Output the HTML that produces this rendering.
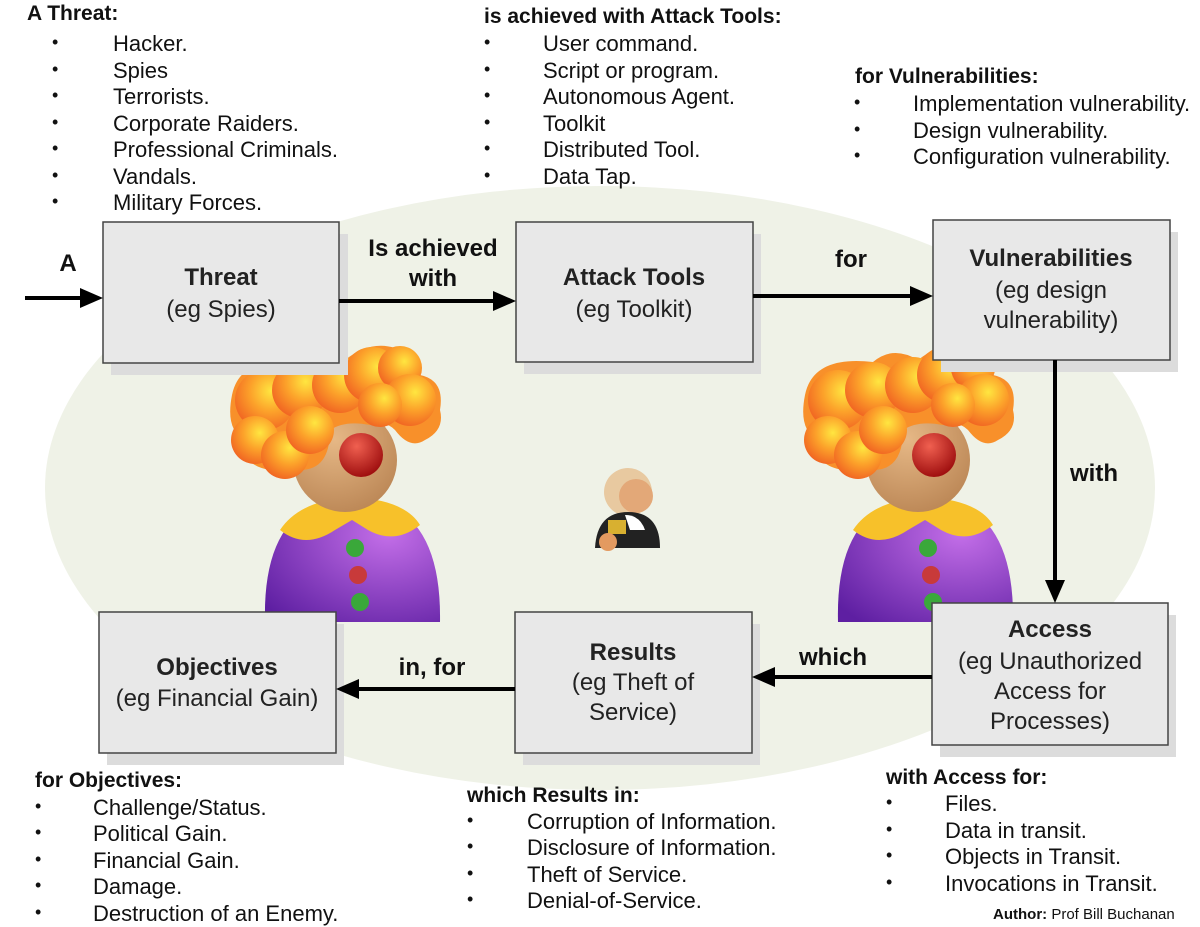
<!DOCTYPE html>
<html><head><meta charset="utf-8"><style>
body{margin:0;width:1200px;height:927px;background:#fff;overflow:hidden;}
svg{display:block;font-family:"Liberation Sans",Arial,sans-serif;}
</style></head><body>
<svg width="1200" height="927" viewBox="0 0 1200 927">
<defs>
<radialGradient id="hair" cx="0.6" cy="0.35" r="0.7"><stop offset="0" stop-color="#ffe640"/><stop offset="0.5" stop-color="#fca12a"/><stop offset="1" stop-color="#f06222"/></radialGradient>
<radialGradient id="face" cx="0.4" cy="0.3" r="0.8"><stop offset="0" stop-color="#e6b886"/><stop offset="1" stop-color="#b88352"/></radialGradient>
<radialGradient id="body" cx="0.7" cy="0.3" r="0.9"><stop offset="0" stop-color="#c36ee8"/><stop offset="1" stop-color="#5e1fa2"/></radialGradient>
<radialGradient id="nose" cx="0.4" cy="0.3" r="0.7"><stop offset="0" stop-color="#f06050"/><stop offset="1" stop-color="#a01010"/></radialGradient>
<g id="clown">
<path d="M265,622 Q262,500 352,497 Q442,500 440,622 Z" fill="url(#body)"/>
<path d="M280,530 Q300,500 352,497 Q405,500 420,525 Q395,545 368,530 L352,520 L335,530 Q305,550 280,530Z" fill="#f7c12a"/>
<circle cx="355" cy="548" r="9" fill="#3aa83a"/>
<circle cx="358" cy="575" r="9" fill="#c83a3a"/>
<circle cx="360" cy="602" r="9" fill="#3aa83a"/>
<circle cx="345" cy="460" r="52" fill="url(#face)"/>
<g fill="#f8902a">
<path d="M232,395 Q240,355 300,362 Q320,345 345,360 Q370,340 395,348 Q420,350 420,375 Q445,380 440,410 Q445,430 425,440 Q410,450 395,430 Q385,420 370,425 Q345,420 330,430 Q330,470 300,470 Q290,480 270,470 Q240,465 245,440 Q225,430 232,395Z"/>
</g>
<g fill="url(#hair)">
<circle cx="265" cy="400" r="30"/><circle cx="255" cy="440" r="24"/><circle cx="285" cy="455" r="24"/>
<circle cx="300" cy="390" r="28"/><circle cx="340" cy="385" r="28"/><circle cx="372" cy="375" r="28"/>
<circle cx="400" cy="368" r="22"/><circle cx="410" cy="400" r="26"/>
<circle cx="310" cy="430" r="24"/><circle cx="380" cy="405" r="22"/>
</g>
<circle cx="361" cy="455" r="22" fill="url(#nose)"/>
</g>
</defs>
<ellipse cx="600" cy="488" rx="555" ry="302" fill="#eff2e7"/>
<use href="#clown"/>
<use href="#clown" transform="translate(573,0)"/>
<!-- judge -->
<circle cx="628" cy="492" r="24" fill="#e8c9a0"/>
<circle cx="636" cy="496" r="17" fill="#e3a878"/>
<path d="M595,548 Q597,512 628,512 Q660,512 660,548 Z" fill="#222"/>
<path d="M625,515 Q640,515 645,530 L630,530Z" fill="#fff"/>
<rect x="608" y="520" width="18" height="14" fill="#d8b030"/>
<circle cx="608" cy="542" r="9" fill="#e39a60"/>
<g fill="#dcdcdc"><rect x="111" y="234" width="237" height="141"/><rect x="524" y="234" width="237" height="140"/><rect x="941" y="232" width="237" height="140"/><rect x="940" y="615" width="236" height="142"/><rect x="523" y="624" width="237" height="141"/><rect x="107" y="624" width="237" height="141"/></g>
<g fill="#e8e8e8" stroke="#444" stroke-width="1.5"><rect x="103" y="222" width="236" height="141"/><rect x="516" y="222" width="237" height="140"/><rect x="933" y="220" width="237" height="140"/><rect x="932" y="603" width="236" height="142"/><rect x="515" y="612" width="237" height="141"/><rect x="99" y="612" width="237" height="141"/></g>
<g stroke="#000" stroke-width="4" fill="none">
<line x1="25" y1="298" x2="85" y2="298"/><line x1="339" y1="301" x2="498" y2="301"/><line x1="753" y1="296" x2="915" y2="296"/>
<line x1="1055" y1="360" x2="1055" y2="585"/><line x1="932" y1="677" x2="772" y2="677"/><line x1="515" y1="689" x2="356" y2="689"/>
</g>
<g fill="#000">
<path d="M103,298 L80,288 L80,308Z"/><path d="M516,301 L493,291 L493,311Z"/><path d="M933,296 L910,286 L910,306Z"/>
<path d="M1055,603 L1045,580 L1065,580Z"/><path d="M752,677 L775,667 L775,687Z"/><path d="M336,689 L359,679 L359,699Z"/>
</g>
<g font-size="24" text-anchor="middle" fill="#222">
<text x="221" y="285" font-weight="bold">Threat</text><text x="221" y="317">(eg Spies)</text>
<text x="634" y="285" font-weight="bold">Attack Tools</text><text x="634" y="317">(eg Toolkit)</text>
<text x="1051" y="266" font-weight="bold">Vulnerabilities</text><text x="1051" y="298">(eg design</text><text x="1051" y="328">vulnerability)</text>
<text x="1050" y="637" font-weight="bold">Access</text><text x="1050" y="669">(eg Unauthorized</text><text x="1050" y="699">Access for</text><text x="1050" y="729">Processes)</text>
<text x="633" y="660" font-weight="bold">Results</text><text x="633" y="690">(eg Theft of</text><text x="633" y="720">Service)</text>
<text x="217" y="675" font-weight="bold">Objectives</text><text x="217" y="706">(eg Financial Gain)</text>
</g>
<g font-size="24" font-weight="bold" text-anchor="middle" fill="#111">
<text x="68" y="271">A</text><text x="433" y="256">Is achieved</text><text x="433" y="286">with</text>
<text x="851" y="267">for</text><text x="1094" y="481">with</text><text x="833" y="665">which</text><text x="432" y="675">in, for</text>
</g>
<g font-size="22" fill="#111">
<text x="27" y="20" font-weight="bold" font-size="21">A Threat:</text>
<text x="113" y="51">Hacker.</text><text x="113" y="78">Spies</text><text x="113" y="104">Terrorists.</text><text x="113" y="131">Corporate Raiders.</text><text x="113" y="157">Professional Criminals.</text><text x="113" y="184">Vandals.</text><text x="113" y="210">Military Forces.</text>
<text x="484" y="23" font-weight="bold" font-size="21">is achieved with Attack Tools:</text>
<text x="543" y="51">User command.</text><text x="543" y="78">Script or program.</text><text x="543" y="104">Autonomous Agent.</text><text x="543" y="131">Toolkit</text><text x="543" y="157">Distributed Tool.</text><text x="543" y="184">Data Tap.</text>
<text x="855" y="83" font-weight="bold" font-size="21">for Vulnerabilities:</text>
<text x="913" y="111">Implementation vulnerability.</text><text x="913" y="138">Design vulnerability.</text><text x="913" y="164">Configuration vulnerability.</text>
<text x="35" y="787" font-weight="bold" font-size="21">for Objectives:</text>
<text x="93" y="815">Challenge/Status.</text><text x="93" y="841">Political Gain.</text><text x="93" y="868">Financial Gain.</text><text x="93" y="894">Damage.</text><text x="93" y="921">Destruction of an Enemy.</text>
<text x="467" y="802" font-weight="bold" font-size="21">which Results in:</text>
<text x="527" y="829">Corruption of Information.</text><text x="527" y="855">Disclosure of Information.</text><text x="527" y="882">Theft of Service.</text><text x="527" y="908">Denial-of-Service.</text>
<text x="886" y="784" font-weight="bold" font-size="21">with Access for:</text>
<text x="945" y="811">Files.</text><text x="945" y="838">Data in transit.</text><text x="945" y="864">Objects in Transit.</text><text x="945" y="891">Invocations in Transit.</text>
</g>
<g font-size="18" fill="#111">
<text x="52" y="48">•</text><text x="52" y="75">•</text><text x="52" y="101">•</text><text x="52" y="128">•</text><text x="52" y="154">•</text><text x="52" y="181">•</text><text x="52" y="207">•</text>
<text x="484" y="48">•</text><text x="484" y="75">•</text><text x="484" y="101">•</text><text x="484" y="128">•</text><text x="484" y="154">•</text><text x="484" y="181">•</text>
<text x="854" y="108">•</text><text x="854" y="135">•</text><text x="854" y="161">•</text>
<text x="35" y="812">•</text><text x="35" y="838">•</text><text x="35" y="865">•</text><text x="35" y="891">•</text><text x="35" y="918">•</text>
<text x="467" y="826">•</text><text x="467" y="852">•</text><text x="467" y="879">•</text><text x="467" y="905">•</text>
<text x="886" y="808">•</text><text x="886" y="835">•</text><text x="886" y="861">•</text><text x="886" y="888">•</text>
</g>
<text x="993" y="919" font-size="15" fill="#111"><tspan font-weight="bold">Author:</tspan> Prof Bill Buchanan</text>
</svg>
</body></html>
